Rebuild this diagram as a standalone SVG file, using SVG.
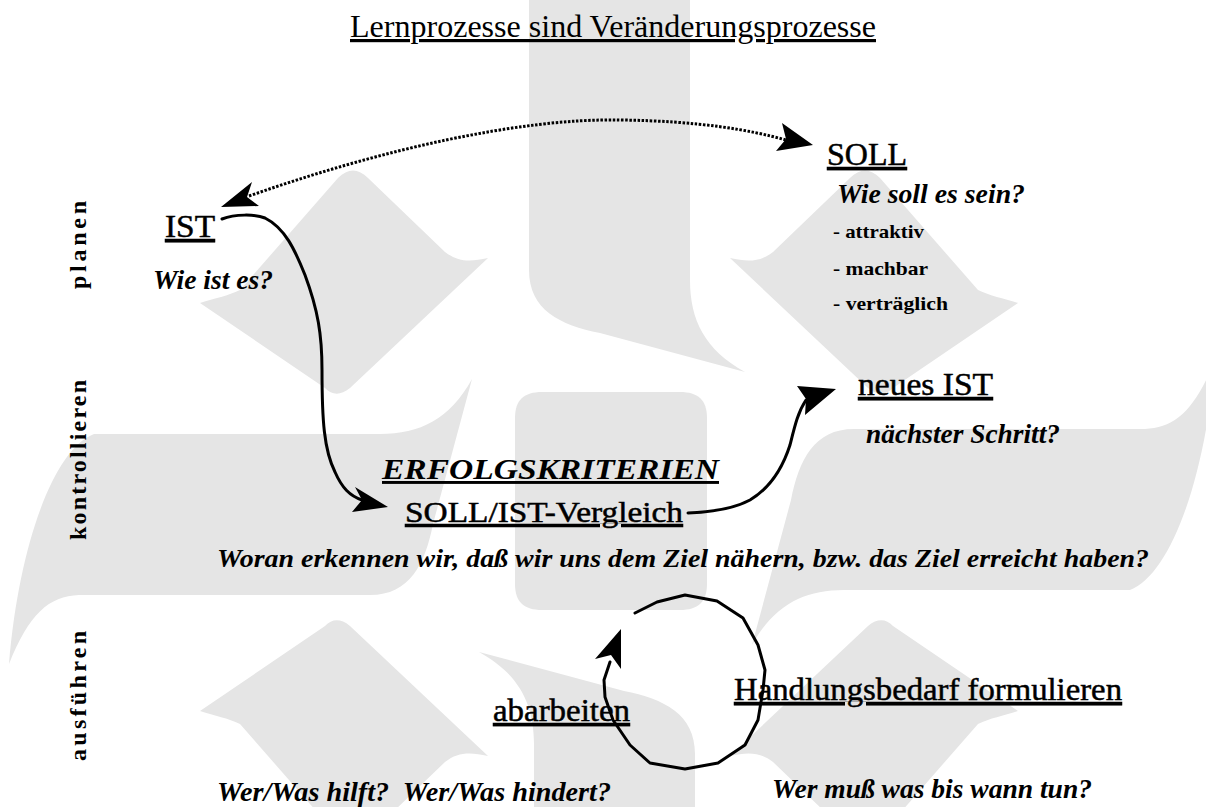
<svg xmlns="http://www.w3.org/2000/svg" width="1206" height="807" viewBox="0 0 1206 807">
<style>
  .wm{fill:#e5e5e5}
  text{font-family:"Liberation Serif","Times New Roman",serif;fill:#000}
  .bi{font-weight:bold;font-style:italic}
  .b{font-weight:bold}
  .u{text-decoration:underline}
  .n{stroke:#000;stroke-width:0.5}
  .line{fill:none;stroke:#000;stroke-width:3;stroke-linejoin:round;stroke-linecap:round}
  .dot{fill:none;stroke:#000;stroke-width:3;stroke-dasharray:2.5 1.6}
  .head{fill:#000;stroke:none}
  .side{font-weight:bold;font-size:24px}
</style>
<defs>
  <path id="bar" d="M 854,429 L 1145,429 C 1175,428 1195,410 1215,360 C 1205,480 1170,575 1130,590 L 844,590 C 804,590 774,605 752,645 L 791,500 C 799,460 814,429 854,429 Z"/>
  <path id="dia" d="M 200,303 C 215,298 228,296 240,290 L 338,178 C 348,168 358,168 368,178 L 445,252 C 458,262 470,262 488,258 L 350,388 C 340,396 332,395 325,388 Z"/>
</defs>
<rect width="1206" height="807" fill="#fff"/>
<g id="watermark" class="wm">
  <use href="#bar"/>
  <use href="#bar" transform="rotate(90 612 512)"/>
  <use href="#bar" transform="rotate(180 612 512)"/>
  <use href="#bar" transform="rotate(270 612 512)"/>
  <use href="#dia"/>
  <use href="#dia" transform="matrix(-1 0 0 1 1218 0)"/>
  <use href="#dia" transform="matrix(1 0 0 -1 0 1014)"/>
  <use href="#dia" transform="matrix(-1 0 0 -1 1218 1014)"/>
  <path d="M 515,418 C 515,400 524,392 542,392 L 680,392 C 698,392 707,400 707,418 L 707,584 C 707,602 698,610 680,610 L 542,610 C 524,610 515,602 515,584 Z"/>
</g>
<g id="title">
  <text x="350" y="37" font-size="32" class="u" textLength="526" lengthAdjust="spacingAndGlyphs">Lernprozesse sind Veränderungsprozesse</text>
</g>
<g id="phase-labels">
  <text class="side" transform="translate(86,245) rotate(-90)" text-anchor="middle" textLength="88" lengthAdjust="spacing">planen</text>
  <text class="side" transform="translate(86,460) rotate(-90)" text-anchor="middle" textLength="160" lengthAdjust="spacing">kontrollieren</text>
  <text class="side" transform="translate(86,696) rotate(-90)" text-anchor="middle" textLength="130" lengthAdjust="spacing">ausführen</text>
</g>
<g id="node-ist">
  <text x="165" y="237" font-size="32" class="u n" textLength="50" lengthAdjust="spacingAndGlyphs">IST</text>
  <text x="153" y="289" font-size="27" class="bi" textLength="120" lengthAdjust="spacingAndGlyphs">Wie ist es?</text>
</g>
<g id="node-soll">
  <text x="827" y="165" font-size="31" class="u n" textLength="80" lengthAdjust="spacingAndGlyphs">SOLL</text>
  <text x="837" y="203" font-size="28" class="bi" textLength="188" lengthAdjust="spacingAndGlyphs">Wie soll es sein?</text>
  <text x="833" y="238" font-size="19" class="b" textLength="91" lengthAdjust="spacingAndGlyphs">- attraktiv</text>
  <text x="833" y="275" font-size="19" class="b" textLength="95" lengthAdjust="spacingAndGlyphs">- machbar</text>
  <text x="833" y="310" font-size="19" class="b" textLength="115" lengthAdjust="spacingAndGlyphs">- verträglich</text>
</g>
<g id="node-neues-ist">
  <text x="858" y="395" font-size="32" class="u n" textLength="135" lengthAdjust="spacingAndGlyphs">neues IST</text>
  <text x="866" y="443" font-size="27" class="bi" textLength="194" lengthAdjust="spacingAndGlyphs">nächster Schritt?</text>
</g>
<g id="node-erfolgskriterien">
  <text x="382" y="479" font-size="29" class="bi u" textLength="337" lengthAdjust="spacingAndGlyphs">ERFOLGSKRITERIEN</text>
  <text x="405" y="522" font-size="30" class="u n" textLength="278" lengthAdjust="spacingAndGlyphs">SOLL/IST-Vergleich</text>
  <text x="217" y="567" font-size="26" class="bi" textLength="932" lengthAdjust="spacingAndGlyphs">Woran erkennen wir, daß wir uns dem Ziel nähern, bzw. das Ziel erreicht haben?</text>
</g>
<g id="node-abarbeiten">
  <text x="493" y="721" font-size="31" class="u n" textLength="137" lengthAdjust="spacingAndGlyphs">abarbeiten</text>
  <text x="217" y="801" font-size="27" class="bi" textLength="394" lengthAdjust="spacingAndGlyphs">Wer/Was hilft?&#160; Wer/Was hindert?</text>
</g>
<g id="node-handlungsbedarf">
  <text x="734" y="700" font-size="32" class="u n" textLength="388" lengthAdjust="spacingAndGlyphs">Handlungsbedarf formulieren</text>
  <text x="772" y="798" font-size="27" class="bi" textLength="320" lengthAdjust="spacingAndGlyphs">Wer muß was bis wann tun?</text>
</g>
<g id="connectors">
  <path class="dot" d="M 249,196 C 380,150 520,118 620,120 C 700,121 750,130 786,140"/>
  <path class="head" d="M 221,207 L 252,182 L 247,197 L 259,206 Z"/>
  <path class="head" d="M 813,145 L 782,123 L 786,139 L 776,151 Z"/>
  <path class="line" d="M 222,219 C 235,214 255,214 265,218 C 285,228 295,250 305,275 C 318,310 322,335 322,370 C 322,420 324,450 335,472 C 342,488 350,496 362,500"/>
  <path class="head" d="M 388,507 L 355,487 L 362,500 L 352,512 Z"/>
  <path class="line" d="M 688,513 C 715,512 735,508 750,500 C 770,488 782,470 790,445 C 795,425 798,412 806,400"/>
  <path class="head" d="M 836,389 L 797,386 L 806,399 L 805,415 Z"/>
  <path class="line" d="M 635,613 L 657,602 L 685,595 L 717,601 L 743,618 L 758,645 L 765,670 L 763,690 L 758,720 L 745,745 L 718,763 L 685,769 L 650,763 L 630,745 L 613,720 L 605,697 L 604,680 L 610,662"/>
  <path class="head" d="M 621,629 L 595,659 L 611,655 L 621,669 Z"/>
</g>
</svg>
